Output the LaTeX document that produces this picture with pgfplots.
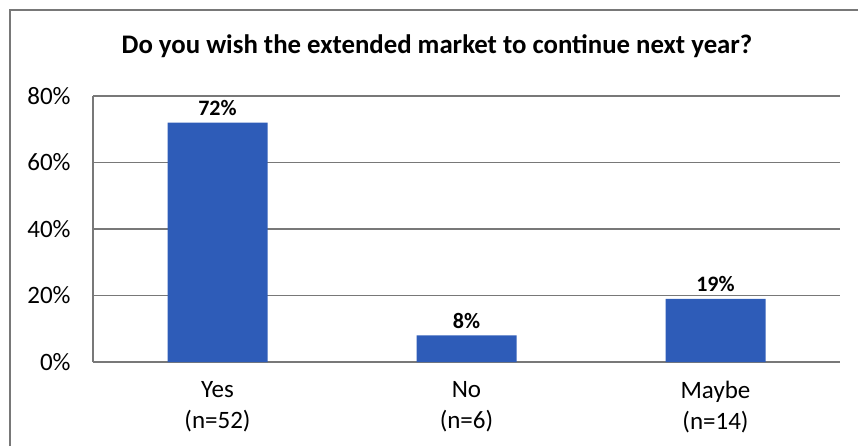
\documentclass[border=0pt]{standalone}
\usepackage{pgfplots}
\pgfplotsset{compat=1.18}
\usepackage{fontspec}
\setmainfont{Carlito}
\definecolor{barblue}{RGB}{46,92,184}
\definecolor{gridgray}{RGB}{120,120,120}
\begin{document}
\begin{tikzpicture}
\path[use as bounding box] (0,0) rectangle (429pt,223pt);
\draw[gridgray, line width=0.6pt] (5pt,0) -- (5pt,218pt) -- (429pt,218pt);
\begin{axis}[
  at={(46.5pt,42pt)}, anchor=south west,
  scale only axis, width=373.5pt, height=133pt,
  ybar, bar width=50pt,
  xmin=-0.5, xmax=2.5, ymin=0, ymax=80,
  xtick=data,
  xticklabels={{Yes\\(n=52)},{No\\(n=6)},{Maybe\\(n=14)}},
  ytick={0,20,40,60,80},
  yticklabel={\pgfmathprintnumber{\tick}\%},
  /pgf/number format/assume math mode=true,
  axis x line=bottom, axis y line=left,
  axis line style={gridgray, line width=0.6pt, -},
  ymajorgrids, grid style={gridgray, line width=0.6pt},
  major tick length=0pt,
  tick label style={font=\fontsize{12.5}{14}\selectfont, black},
  yticklabel style={inner sep=0pt, xshift=-11pt},
  xticklabel style={align=center, font=\fontsize{12.5}{15.5}\selectfont, yshift=-6pt},
  nodes near coords={\pgfmathprintnumber{\pgfplotspointmeta}\%},
  nodes near coords style={font=\bfseries\fontsize{11}{13}\selectfont, black, /pgf/number format/assume math mode=true},
  title={\bfseries Do you wish the extended market to continue next year?},
  title style={font=\fontsize{13.4}{15}\selectfont, at={(axis description cs:0.4605,1)}, anchor=base, yshift=15.5pt},
]
\addplot[fill=barblue, draw=none] coordinates {(0,72) (1,8) (2,19)};
\end{axis}
\end{tikzpicture}
\end{document}
